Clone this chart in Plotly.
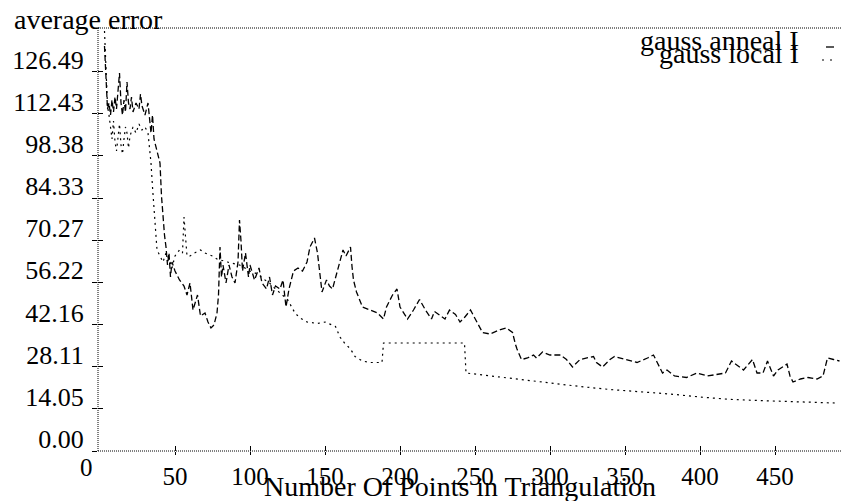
import plotly.graph_objects as go

# ---------------- data ----------------
anneal_x = [3, 4, 5, 6, 7, 8, 9, 10, 11, 12, 13, 14, 15, 16, 17, 18, 19, 20, 21, 22, 24, 26, 27, 28, 30, 32,
            33, 34, 35, 36, 38, 40, 41, 42, 43, 44, 45, 46, 47, 48, 50, 53, 56, 58, 60, 62, 65, 67, 70, 72,
            74, 76, 78, 79, 80, 81, 82, 84, 86, 88, 90, 92, 93, 94, 95, 97, 99, 100, 103, 106, 108, 111,
            113, 115, 117, 120, 122, 124, 126, 129, 132, 135, 138, 140, 143, 145, 147, 148, 151, 153, 155,
            158, 162, 164, 167, 168, 169, 171, 175, 180, 185, 189, 191, 195, 198, 200, 205, 209, 213, 217,
            221, 223, 230, 233, 237, 240, 243, 247, 251, 255, 260, 267, 271, 275, 277, 278, 281, 285, 289,
            291, 295, 300, 307, 311, 315, 320, 329, 331, 335, 340, 343, 347, 351, 358, 365, 369, 373, 375,
            378, 383, 391, 398, 405, 411, 417, 421, 429, 435, 438, 442, 445, 449, 452, 458, 460, 462, 467,
            472, 478, 482, 485, 489, 493]
anneal_y = [135, 122, 114, 116, 112, 117, 113, 118, 114, 120, 126, 116, 112, 117, 113, 123, 116, 114, 118, 113,
            116, 114, 119, 115, 112, 116, 110, 106, 112, 104, 100, 96, 85, 78, 72, 68, 62, 66, 58, 63, 60, 57,
            55, 52, 56, 47, 52, 45, 46, 43, 41, 42, 46, 52, 68, 58, 62, 56, 62, 58, 56, 63, 77, 70, 60, 66, 58,
            62, 57, 61, 56, 54, 58, 52, 55, 54, 57, 48, 54, 60, 61, 60, 63, 68, 71, 66, 57, 53, 57, 55, 54,
            60, 67, 65, 68, 61.5, 57, 53, 48, 47, 46, 44, 48, 52, 54, 48, 44, 47, 50.5, 47, 44, 46.5, 44, 47,
            45.5, 43, 44.5, 47, 43, 39.5, 39, 40.5, 41, 39.5, 35.5, 34, 30.5, 31, 32, 31, 33, 32, 32, 30.5,
            28, 30.5, 31.5, 29.5, 28, 30.5, 31.5, 31, 30.5, 29.5, 31, 32, 28, 26, 27, 25, 24.5, 26, 25, 25.5,
            26, 30, 27, 30.5, 26, 26, 30, 25, 27, 29, 25, 23, 24, 24.5, 24, 25, 31, 30.5, 30]

local_x = [3, 4, 5, 6, 7, 8, 9, 10, 11, 12, 13, 14, 15, 16, 17, 18, 19, 20, 22, 24, 26, 28, 30, 32, 34, 35,
           36, 37, 38, 40, 42, 44, 46, 48, 50, 53, 55, 56, 57, 58, 60, 63, 67, 70, 75, 78, 85, 93, 100, 105,
           110, 113, 117, 125, 130, 133, 138, 145, 150, 155, 157, 160, 163, 167, 170, 175, 180, 188, 189,
           200, 220, 243, 244, 260, 280, 300, 320, 340, 360, 380, 400, 420, 440, 460, 490]
local_y = [140, 128, 115, 112, 108, 104, 110, 103, 100, 106, 109, 102, 99, 104, 108, 106, 101, 105, 108, 106,
           109, 107, 108, 106, 96, 88, 80, 72, 67, 65, 63, 66, 64, 61, 65, 67, 66, 78, 70, 65, 65, 66, 67,
           66, 65, 64, 63, 62, 60, 59, 57, 56, 54, 50.5, 46, 44.5, 43, 42.5, 43, 42, 41.5, 38, 36, 34, 31.5,
           30, 29.5, 29.5, 36, 36, 36, 36, 26, 25, 24, 22.5, 21.5, 20.5, 19.8, 19, 18, 17.2, 16.8, 16.5, 16]

y_tick_vals = [0, 14.05, 28.11, 42.16, 56.22, 70.27, 84.33, 98.38, 112.43, 126.49]
y_tick_text = ["0.00", "14.05", "28.11", "42.16", "56.22", "70.27", "84.33", "98.38", "112.43", "126.49"]
x_tick_vals = [50, 100, 150, 200, 250, 300, 350, 400, 450]
x_tick_text = ["50", "100", "150", "200", "250", "300", "350", "400", "450"]

series_names = ["gauss anneal I", "gauss local I"]
y_title = "average error"
x_title = "Number Of Points in Triangulation"

# ---------------- figure ----------------
FONT = "Liberation Serif, Times New Roman, serif"
W, H = 841, 501
ML, MR, MT, MB = 98, 0, 28, 50

fig = go.Figure()
fig.add_trace(go.Scatter(x=anneal_x, y=anneal_y, mode="lines", name=series_names[0],
                         line=dict(color="black", width=1.3, dash="6px,3px"), showlegend=False))
fig.add_trace(go.Scatter(x=local_x, y=local_y, mode="lines", name=series_names[1],
                         line=dict(color="black", width=1.2, dash="2px,4px"), showlegend=False))
# empty helper trace so the mirrored tick axes are drawn
fig.add_trace(go.Scatter(x=[None], y=[None], xaxis="x2", yaxis="y2", showlegend=False, hoverinfo="skip"))

xr = [-1.33, 494]
yr = [0, 141]

fig.update_layout(
    width=W, height=H,
    margin=dict(l=ML, r=MR, t=MT, b=MB, pad=0),
    paper_bgcolor="white", plot_bgcolor="white",
    font=dict(family=FONT, color="black"),
    xaxis=dict(range=xr, showgrid=False, zeroline=False, showline=False,
               tickmode="array", tickvals=x_tick_vals, ticktext=x_tick_text,
               ticks="outside", ticklen=3, tickcolor="black", tickwidth=1,
               tickfont=dict(size=25, family=FONT, color="black")),
    yaxis=dict(range=yr, showgrid=False, zeroline=False, showline=False,
               tickmode="array", tickvals=y_tick_vals, ticktext=y_tick_text,
               ticks="outside", ticklen=5, tickcolor="black", tickwidth=1,
               ticklabelshift=-12, ticklabelstandoff=3,
               tickfont=dict(size=26, family=FONT, color="black")),
    xaxis2=dict(range=xr, overlaying="x", showgrid=False, zeroline=False, showline=False,
                tickmode="array", tickvals=x_tick_vals, showticklabels=False,
                ticks="inside", ticklen=5, tickcolor="black", tickwidth=1),
    yaxis2=dict(range=yr, overlaying="y", showgrid=False, zeroline=False, showline=False,
                tickmode="array", tickvals=y_tick_vals, showticklabels=False,
                ticks="inside", ticklen=5, tickcolor="black", tickwidth=1),
    shapes=[
        dict(type="line", xref="paper", yref="paper", x0=0, x1=1, y0=1, y1=1,
             line=dict(color="black", width=1, dash="1px,1px")),
        dict(type="line", xref="paper", yref="paper", x0=0, x1=1, y0=0, y1=0,
             line=dict(color="black", width=1, dash="1px,1px")),
        dict(type="line", xref="paper", yref="paper", x0=0, x1=0, y0=0, y1=1,
             line=dict(color="black", width=1, dash="1px,1px")),
        # legend samples
        dict(type="line", xref="paper", yref="paper",
             x0=(826 - ML) / 743, x1=(834 - ML) / 743, y0=(451 - 47) / 423, y1=(451 - 47) / 423,
             line=dict(color="black", width=1.3)),
        dict(type="line", xref="paper", yref="paper",
             x0=(822 - ML) / 743, x1=(838 - ML) / 743, y0=(451 - 60) / 423, y1=(451 - 60) / 423,
             line=dict(color="black", width=1.2, dash="2px,6px")),
    ],
    annotations=[
        dict(text=y_title, xref="paper", yref="paper", x=(12 - ML) / 743, y=(451 - 19) / 423,
             xanchor="left", yanchor="middle", showarrow=False,
             font=dict(size=28, family=FONT, color="black")),
        dict(text=x_title, xref="paper", yref="paper", x=(460 - ML) / 743, y=(451 - 486) / 423,
             xanchor="center", yanchor="middle", showarrow=False,
             font=dict(size=28, family=FONT, color="black")),
        dict(text="0", xref="x", yref="paper", x=0, y=(451 - 467) / 423, xshift=-14,
             xanchor="center", yanchor="middle", showarrow=False,
             font=dict(size=25, family=FONT, color="black")),
        dict(text=series_names[0], xref="paper", yref="paper", x=(801 - ML) / 743, y=(451 - 40) / 423,
             xanchor="right", yanchor="middle", showarrow=False,
             font=dict(size=28, family=FONT, color="black")),
        dict(text=series_names[1], xref="paper", yref="paper", x=(801 - ML) / 743, y=(451 - 54) / 423,
             xanchor="right", yanchor="middle", showarrow=False,
             font=dict(size=28, family=FONT, color="black")),
    ],
)

fig.write_html("out.html")
